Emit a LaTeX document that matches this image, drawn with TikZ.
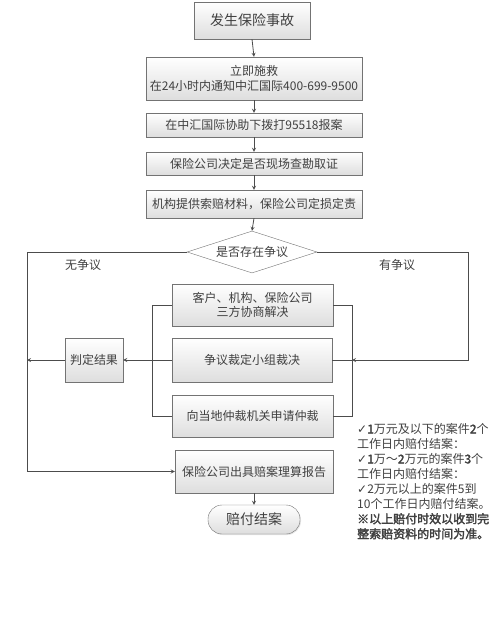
\documentclass[tikz,border=0pt]{standalone}
\usepackage{fontspec}
\setmainfont{Noto Sans CJK SC}[AutoFakeBold=2.5]
\newfontfamily\symfont{DejaVu Sans}
\usetikzlibrary{shapes.geometric,shadows}

\begin{document}
\begin{tikzpicture}[x=1pt,y=-1pt,>=stealth,
  every node/.style={text=black!75,font=\fontsize{12}{14.5}\selectfont},
  box/.style={draw=black!55,top color=white,bottom color=black!13,inner sep=1pt,
    drop shadow={opacity=0.2,shadow xshift=1pt,shadow yshift=-1pt}},
  line/.style={draw=black!70,line width=0.8pt}]
\useasboundingbox (0,0) rectangle (500,622);

% main column
\node[box,minimum width=116,minimum height=37,font=\fontsize{14}{16}\selectfont] (fire) at (252,20.5) {发生保险事故};
\node[box,minimum width=216,minimum height=43,align=center] (rescue) at (254,78.5) {立即施救\\在24小时内通知中汇国际400-699-9500};
\node[box,minimum width=216,minimum height=24] (report) at (254,125) {在中汇国际协助下拨打95518报案};
\node[box,minimum width=216,minimum height=23] (survey) at (254,163.5) {保险公司决定是否现场查勘取证};
\node[box,minimum width=216,minimum height=28] (assess) at (254,204) {机构提供索赔材料，保险公司定损定责};
\node[diamond,draw=black!55,fill=white,aspect=3,inner sep=0pt,minimum width=130,minimum height=42] (dispute) at (252,252) {是否存在争议};
\foreach \a/\b in {fire/rescue,rescue/report,report/survey,survey/assess,assess/dispute}
  \draw[line,->] (\a.south) -- (\b.north);

% dispute branches
\node[box,minimum width=161,minimum height=42,align=center] (nego) at (252.5,305) {客户、机构、保险公司\\三方协商解决};
\node[box,minimum width=160,minimum height=44] (panel) at (252,360) {争议裁定小组裁决};
\node[box,minimum width=161,minimum height=42] (arbit) at (252.5,416) {向当地仲裁机关申请仲裁};
\node[box,minimum width=58,minimum height=44] (verdict) at (94,360) {判定结果};
\coordinate (lcorner) at (27,252);
\coordinate (rcorner) at (468,252);
\coordinate (rjoin) at (352,360);
\coordinate (ltop) at (152,305);
\coordinate (lbot) at (152,416);
\coordinate (rtop) at (352,305);
\coordinate (rbot) at (352,416);
\draw[line] (nego.west) -- (ltop) -- (lbot) -- (arbit.west);
\draw[line] (nego.east) -- (rtop) -- (rbot) -- (arbit.east);
\draw[line] (panel.east) -- (rjoin);
\draw[line,->] (dispute.east) -- (rcorner) |- (rjoin);
\draw[line,->] (panel.west) -- (verdict.east);
\draw[line,->] (verdict.west) -- (verdict.west -| lcorner);
\node (nolabel) at (83,265) {无争议};
\node (yeslabel) at (397,265) {有争议};

% settlement
\node[box,minimum width=158,minimum height=43] (settle) at (254,471.5) {保险公司出具赔案理算报告};
\node[box,rounded corners=14pt,minimum width=92,minimum height=29,font=\fontsize{14}{16}\selectfont] (close) at (254,519.5) {赔付结案};
\draw[line,->] (dispute.west) -- (lcorner) |- (settle.west);
\draw[line,->] (settle.south) -- (close.north);

% time limits
\node[anchor=north west,align=left,inner sep=0pt,font=\fontsize{12}{15}\selectfont] (notes) at (357,423)
  {{\symfont ✓}\textbf{1}万元及以下的案件\textbf{2}个\\
   工作日内赔付结案：\\
   {\symfont ✓}\textbf{1}万～\textbf{2}万元的案件\textbf{3}个\\
   工作日内赔付结案：\\
   {\symfont ✓}2万元以上的案件5到\\
   10个工作日内赔付结案。\\
   \textbf{※以上赔付时效以收到完}\\
   \textbf{整索赔资料的时间为准。}};
\end{tikzpicture}
\end{document}
